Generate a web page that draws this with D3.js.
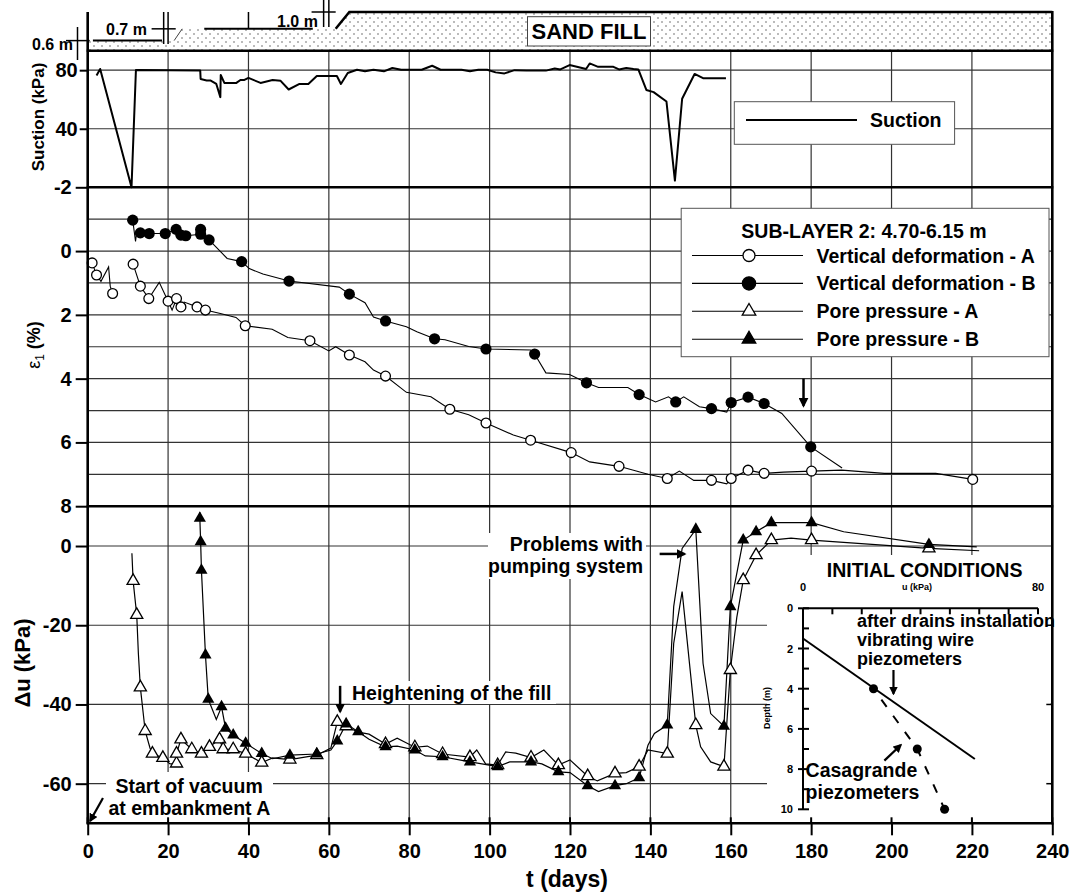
<!DOCTYPE html>
<html><head><meta charset="utf-8">
<script src="https://cdn.jsdelivr.net/npm/d3@7"></script>
<style>
body{margin:0;background:#fff}
svg text{font-family:"Liberation Sans",Arial,Helvetica,sans-serif;font-weight:bold;fill:#000}
</style>
</head><body>
<svg id="c" width="1074" height="896"></svg>
<script>
// ================= DATA =================
const xTicks = [0,20,40,60,80,100,120,140,160,180,200,220,240];
const suctionTicks = [40,80];
const strainTicks = [-2,0,2,4,6,8];
const strainGrid = [-1,0,1,2,3,4,5,6,7];
const duTicks = [-60,-40,-20,0];

// sand fill stages (day, height in m)
const fillDays = [0,21.5,23.5,61.7,65.1,240];
const fillHeights = [0.6,0.6,1.3,1.3,2.3,2.3];

// suction (kPa)
const suctionDays = [2.2,3.1,10.9,12,28,28.1,29.6,30.5,32,33,33.1,34,37,38,39,40,43,46,48,50,52.7,54.9,57,62,63,64.7,67,69,71.1,73.7,75.8,78,83.1,85.7,87.8,93,95.1,97.2,99.4,101.5,103.7,106.2,109.2,114,116.2,117.6,119.9,124,124.9,127,130.8,132.2,134,135.8,137,139,140.8,144,146.1,147.9,151,153.1,158.8];
const suctionKPa = [76.3,80.8,0,80.1,79.7,74,73,73,70.6,61.6,76.7,71.3,71.3,73.3,73.3,74.7,71.3,73.3,72.7,66.8,70.6,70.6,76,76,70.6,78.1,80.3,79.2,80.3,79.2,81.5,80.3,80.3,83,80.3,80.3,79.2,80.3,80.3,78.5,77.8,80,79.7,79.7,81.2,80.5,83.5,80.8,84.6,82.3,82.3,80.5,81.5,80.8,80.5,66.5,65,58.6,4.6,60.5,77.4,74.5,74.5];

// vertical deformation A (line + markers)
const vdADays = [1.1,2.2,3.3,5.2,5.6,6.2,8,11.3,13.1,15.2,17.8,20,21,22.1,23.2,24,27.2,29.3,33,36.9,39.2,45.9,49.8,55.3,60,61.7,65.1,69,71.1,74.1,79.3,85.4,90.1,94.8,99.1,105.9,110.2,120.3,124.9,132.2,139.4,144.2,147.2,150.8,155.2,159,160.1,164.3,168.3,173.1,180.1,187.6,198.2,211,220.2];
const vdAVals = [0.37,0.75,0.95,0.5,1.1,1.33,null,0.41,1.1,1.49,0.98,1.57,1.85,1.49,1.75,1.6,1.75,1.85,1.96,2.08,2.34,2.45,2.71,2.81,3.13,3.0,3.26,3.47,3.73,3.92,4.43,4.57,4.96,5.13,5.39,5.77,5.93,6.32,6.61,6.75,7.0,7.13,6.9,7.19,7.19,7.3,7.13,6.87,6.97,6.93,6.9,6.87,6.97,6.97,7.16];
const vdAMarkDays = [1.1,2.2,6.2,11.3,13.1,15.2,20,22.1,23.2,27.2,29.3,39.2,55.3,65.1,74.1,90.1,99.1,110.2,120.3,132.2,144.2,155.2,160.1,164.3,168.3,180.1,220.2];
const vdAMarkVals = [0.37,0.75,1.33,0.41,1.1,1.49,1.57,1.49,1.75,1.75,1.85,2.34,2.81,3.26,3.92,4.96,5.39,5.93,6.32,6.75,7.13,7.19,7.13,6.87,6.97,6.9,7.16];

// vertical deformation B
const vdBDays = [11.2,11.9,12.2,13.1,15.3,19.3,22,23.2,24.4,28.1,28.1,30.2,34.7,38.3,40.2,43.6,50.1,62.6,65.1,69,71.1,74.1,79.3,81.9,86.3,88.9,94.8,99.1,110.2,111.2,114,119.9,124.1,127.1,134.4,137.2,141.3,144.5,146.3,148.3,152.2,155.2,159,160.1,164.3,168.3,172.7,179.9,187.7];
const vdBVals = [-0.97,-0.3,-0.6,-0.57,-0.55,-0.55,-0.68,-0.5,-0.48,-0.53,-0.68,-0.35,0.23,0.33,0.55,0.72,0.94,1.13,1.35,1.62,2.07,2.19,2.37,2.53,2.75,2.78,2.99,3.07,3.1,3.23,3.82,3.87,4.13,4.28,4.28,4.5,4.73,4.57,4.73,4.57,4.88,4.94,5.05,4.75,4.58,4.78,5.09,6.14,6.8];
const vdBMarkDays = [11.2,13.1,15.3,19.3,22,23.2,24.4,28.1,28.1,30.2,38.3,50.1,65.1,74.1,86.3,99.1,111.2,124.1,137.2,146.3,155.2,160.1,164.3,168.3,179.9];
const vdBMarkVals = [-0.97,-0.57,-0.55,-0.55,-0.68,-0.5,-0.48,-0.68,-0.53,-0.35,0.33,0.94,1.35,2.19,2.75,3.07,3.23,4.13,4.5,4.73,4.94,4.75,4.58,4.78,6.14];

// pore pressure A (kPa)
const ppADays = [11,11.3,12.2,12.6,13.1,14.3,15.5,16.1,18.7,20.5,22.1,22.1,23.2,25.9,28.3,30.3,32.8,33.7,36.2,39.3,43.3,46,50.3,57,60.5,62.1,64.3,67.3,70,74.1,77,81.4,84.5,88.3,95.1,96.8,99,102,104,106.5,110.3,113.5,117.1,120,124.4,126.8,131.2,134,137.2,139.4,144.2,145.8,147.9,151.3,152.5,155,158.3,159.9,161.5,163.1,166.3,170.1,175,180.1,209.3,221.8];
const ppAVals = [-1.85,-8.8,-17.4,-27,-35.7,-46.7,-51,-52.4,-53.5,-55,-54.9,-52.4,-48.8,-51.3,-52.4,-50.7,-48.8,-51.3,-51.3,-52.4,-54.7,-53.5,-53.9,-52.8,-51,-44.4,-45.5,-47,-47.5,-50,-48.5,-50.8,-50.5,-52.5,-53.3,-51.5,-55,-55.3,-52,-52.3,-53.4,-51.5,-55.3,-54,-58.1,-59.3,-57.4,-57.2,-55.7,-51.5,-52.4,-24.6,-11.5,-45.2,-50.7,-54.5,-55.7,-31.3,-18,-8.6,-2.3,1.5,2,1.5,-0.6,-1.2];
const ppAMarkDays = [11.3,12.2,13.1,14.3,16.1,18.7,22.1,22.1,23.2,25.9,28.3,30.3,32.8,33.7,36.2,39.3,43.3,50.3,57,62.1,64.3,74.1,81.4,88.3,95.1,102,110.3,117.1,124.4,131.2,137.2,144.2,151.3,158.3,159.9,163.1,166.3,170.1,180.1,209.3];
const ppAMarkVals = [-8.8,-17.4,-35.7,-46.7,-52.4,-53.5,-54.9,-52.4,-48.8,-51.3,-52.4,-50.7,-48.8,-51.3,-51.3,-52.4,-54.7,-53.9,-52.8,-44.4,-45.5,-50,-50.8,-52.5,-53.3,-55.3,-53.4,-55.3,-58.1,-57.4,-55.7,-52.4,-45.2,-55.7,-31.3,-8.6,-2.3,1.5,1.5,-0.6];

// pore pressure B
const ppBDays = [27.9,27.9,28.1,28.3,29.3,30,32,33.3,34.3,36.2,39.3,43.3,46,50.3,57,60.5,62.1,64.3,67.3,70,74.1,77,81.4,84,88.3,95.1,97,102,105,110.3,113,117.1,120,124.4,127.1,131.2,134,137.2,139.4,141,144.2,145.8,147.9,151.3,153.1,155,158.3,159.9,163.1,166.3,170.1,180.1,188.1,209.3,221.2];
const ppBVals = [8.5,7,1.1,-6.1,-27.5,-38.7,-43.8,-40.6,-46,-47.7,-49.8,-52.4,-53.7,-52.8,-52.5,-51.5,-49.2,-44.9,-46.9,-48.8,-50.7,-50.5,-51.5,-53,-53.2,-54.5,-54.8,-55.7,-54.5,-54.5,-55,-57,-57.2,-60.5,-62,-60.5,-60,-58.5,-50.3,-47.3,-45.2,-15.3,-0.6,4.2,-29.6,-42.3,-45.5,-15.3,1.5,3.6,5.9,5.9,3.6,0.4,-0.2];
const ppBMarkDays = [27.9,28.1,28.3,29.3,30,33.3,34.3,36.2,39.3,43.3,50.3,57,62.1,64.3,67.3,74.1,81.4,88.3,95.1,102,110.3,117.1,124.4,131.2,137.2,144.2,151.3,158.3,159.9,163.1,166.3,170.1,180.1,209.3];
const ppBMarkVals = [7,1.1,-6.1,-27.5,-38.7,-40.6,-46,-47.7,-49.8,-52.4,-52.8,-52.5,-49.2,-44.9,-46.9,-50.7,-51.5,-53.2,-54.5,-55.7,-54.5,-57,-60.5,-60.5,-58.5,-45.2,4.2,-45.5,-15.3,1.5,3.6,5.9,5.9,0.4];

const legendTitle = "SUB-LAYER 2: 4.70-6.15 m";
const legendLabels = ["Vertical deformation - A","Vertical deformation - B","Pore pressure - A","Pore pressure - B"];

// inset: initial conditions
const insetUTicks = [0,10,20,30,40,50,60,70,80];
const insetDepthTicks = [0,2,4,6,8,10];
const insetDepthMinor = [0,1,2,3,4,5,6,7,8,9,10];
const vwU = [0,58.5];        // vibrating wire piezometers line
const vwDepth = [1.5,7.5];
const casaU = [24,38.9,48.2]; // Casagrande piezometers
const casaDepth = [4,7,10];

// ================= DRAWING =================
const zip = (a,b)=>a.map((d,i)=>[d,b[i]]);
const svg = d3.select('#c');
const L = 87.7, R = 1052.3;
const Y_TOP = 50.7, Y_S = 187.3, Y_E = 506.2, Y_B = 823.3;
const x = d3.scaleLinear().domain([0,240]).range([L,R]);
const ySuc = d3.scaleLinear().domain([0,93.3]).range([Y_S,Y_TOP]);
const yEps = d3.scaleLinear().domain([-2,8]).range([Y_S,Y_E]);
const yDu = d3.scaleLinear().domain([-70,10]).range([Y_B,506.4]);
const yFill = d3.scaleLinear().domain([0,2.3]).range([Y_TOP,12]);

const defs = svg.append('defs');
const pat = defs.append('pattern').attr('id','dots').attr('patternUnits','userSpaceOnUse')
  .attr('width',8).attr('height',8);
pat.append('circle').attr('cx',2).attr('cy',2).attr('r',0.75).attr('fill','#555');
pat.append('circle').attr('cx',6).attr('cy',6).attr('r',0.75).attr('fill','#555');
defs.append('marker').attr('id','ah').attr('viewBox','0 0 10 10').attr('refX',8).attr('refY',5)
  .attr('markerWidth',4).attr('markerHeight',4).attr('orient','auto')
  .append('path').attr('d','M0,0 L10,5 L0,10 z').attr('fill','#000');

// ---- sand fill ----
const fillPoly = [[0,0]].concat(zip(fillDays,fillHeights)).concat([[240,0]]);
svg.append('path').attr('d', d3.line().x(d=>x(d[0])).y(d=>yFill(d[1]))(fillPoly)+'Z')
  .attr('fill','url(#dots)').attr('stroke','none');
svg.append('path').attr('d', d3.line().x(d=>x(d[0])).y(d=>yFill(d[1]))(zip(fillDays,fillHeights).slice(3)))
  .attr('fill','none').attr('stroke','#000').attr('stroke-width',2.5);
svg.append('line').attr('x1',x(fillDays[1])).attr('y1',yFill(fillHeights[1])).attr('x2',x(fillDays[2])).attr('y2',yFill(fillHeights[2]))
  .attr('stroke','#444').attr('stroke-width',1);
// dimension marks
const dim = (x1,y1,x2,y2,w)=>svg.append('line').attr('x1',x1).attr('y1',y1).attr('x2',x2).attr('y2',y2).attr('stroke','#000').attr('stroke-width',w||1.5);
dim(66, yFill(0.6), L+2, yFill(0.6));
dim(77.5, 27, 77.5, 60);
dim(L, 12, L, Y_TOP);
dim(x(1.3), yFill(0.6), x(18.5), yFill(0.6), 2);
dim(x(15.9), yFill(1.3), x(21.9), yFill(1.3));
dim(x(18.9), 12, x(18.9), 44);
dim(x(20), 12, x(20), 44);
dim(x(29), yFill(1.3), x(56), yFill(1.3), 2);
dim(x(40), 12, x(40), yFill(1.3));
dim(x(58.7), 0, x(58.7), 27);
dim(x(60), 0, x(60), 27);
dim(x(55.7), 12, x(61.7), 12);
svg.append('text').attr('x',32).attr('y',50).attr('font-size',16).text('0.6 m');
svg.append('text').attr('x',106).attr('y',35).attr('font-size',16).text('0.7 m');
svg.append('text').attr('x',277).attr('y',27).attr('font-size',16).text('1.0 m');
svg.append('rect').attr('x',527.5).attr('y',16.7).attr('width',123).attr('height',29.3)
  .attr('fill','#fff').attr('stroke','#444').attr('stroke-width',1);
svg.append('text').attr('x',589).attr('y',39).attr('text-anchor','middle').attr('font-size',22).text('SAND FILL');

// ---- grid ----
const grid = svg.append('g').attr('stroke','#333').attr('stroke-width',1.2);
xTicks.slice(1,-1).forEach(t=>grid.append('line').attr('x1',x(t)).attr('x2',x(t)).attr('y1',Y_TOP).attr('y2',Y_B));
suctionTicks.forEach(t=>grid.append('line').attr('x1',L).attr('x2',R).attr('y1',ySuc(t)).attr('y2',ySuc(t)));
strainGrid.forEach(t=>grid.append('line').attr('x1',L).attr('x2',R).attr('y1',yEps(t)).attr('y2',yEps(t)));
duTicks.forEach(t=>grid.append('line').attr('x1',L).attr('x2',R).attr('y1',yDu(t)).attr('y2',yDu(t)));

// white boxes behind annotations
const wbox=(x1,y1,x2,y2)=>svg.append('rect').attr('x',x1).attr('y',y1).attr('width',x2-x1).attr('height',y2-y1).attr('fill','#fff');
wbox(488,533,646,579);
wbox(350,681,556,704);
wbox(106,772,273,821);
wbox(767,555,1050,821);

// ---- data lines ----
const lineS = d3.line().x(d=>x(d[0])).y(d=>ySuc(d[1]));
svg.append('path').attr('d',lineS(zip(suctionDays,suctionKPa))).attr('fill','none').attr('stroke','#000').attr('stroke-width',2).attr('stroke-linejoin','round');

const lineE = d3.line().defined(d=>d[1]!=null).x(d=>x(d[0])).y(d=>yEps(d[1]));
[[vdADays,vdAVals],[vdBDays,vdBVals]].forEach(([a,b])=>
  svg.append('path').attr('d',lineE(zip(a,b))).attr('fill','none').attr('stroke','#000').attr('stroke-width',1.1));
const lineU = d3.line().x(d=>x(d[0])).y(d=>yDu(d[1]));
[[ppADays,ppAVals],[ppBDays,ppBVals]].forEach(([a,b])=>
  svg.append('path').attr('d',lineU(zip(a,b))).attr('fill','none').attr('stroke','#000').attr('stroke-width',1.2));

const tri = d3.symbol().type(d3.symbolTriangle).size(64)();
svg.append('g').selectAll('path').data(zip(ppAMarkDays,ppAMarkVals)).join('path')
  .attr('d',tri).attr('transform',d=>`translate(${x(d[0])},${yDu(d[1])})`)
  .attr('fill','#fff').attr('stroke','#000').attr('stroke-width',1.3);
svg.append('g').selectAll('path').data(zip(ppBMarkDays,ppBMarkVals)).join('path')
  .attr('d',tri).attr('transform',d=>`translate(${x(d[0])},${yDu(d[1])})`)
  .attr('fill','#000');
svg.append('g').selectAll('circle').data(zip(vdAMarkDays,vdAMarkVals)).join('circle')
  .attr('cx',d=>x(d[0])).attr('cy',d=>yEps(d[1])).attr('r',4.9)
  .attr('fill','#fff').attr('stroke','#000').attr('stroke-width',1.3);
svg.append('g').selectAll('circle').data(zip(vdBMarkDays,vdBMarkVals)).join('circle')
  .attr('cx',d=>x(d[0])).attr('cy',d=>yEps(d[1])).attr('r',5.6).attr('fill','#000');

// ---- axes ----
const styleAxis = g=>{ g.select('.domain').remove(); g.selectAll('line').attr('stroke','#000').attr('stroke-width',2);
  g.selectAll('text').attr('font-size',20).attr('font-family','"Liberation Sans",Arial,sans-serif').attr('font-weight','bold'); };
svg.append('g').attr('transform',`translate(${L},0)`).call(d3.axisLeft(ySuc).tickValues(suctionTicks).tickSize(8).tickPadding(2).tickFormat(d=>String(d))).call(styleAxis);
svg.append('g').attr('transform',`translate(${L},0)`).call(d3.axisLeft(yEps).tickValues(strainTicks).tickSize(12).tickPadding(4).tickFormat(d=>String(d))).call(styleAxis);
svg.append('g').attr('transform',`translate(${L},0)`).call(d3.axisLeft(yDu).tickValues(duTicks).tickSize(12).tickPadding(4).tickFormat(d=>String(d))).call(styleAxis);
svg.append('g').attr('transform',`translate(0,${Y_B})`).call(d3.axisBottom(x).tickValues(xTicks).tickSize(12).tickPadding(8.5).tickFormat(d=>String(d))).call(styleAxis);
xTicks.forEach(t=>dim(x(t),Y_B-6,x(t),Y_B,2));
duTicks.slice(0,3).forEach(t=>dim(R-6,yDu(t),R,yDu(t),1.5));

// frame
[Y_TOP,Y_S,Y_E,Y_B].forEach(y=>dim(L-1,y,R+1,y,2.6));
dim(L,12,L,Y_B+1,2.6);
dim(R,yFill(2.3)-1,R,Y_B+1,2.6);

// axis titles
svg.append('text').attr('transform','translate(44,117) rotate(-90)').attr('text-anchor','middle').attr('font-size',17).text('Suction (kPa)');
const eT = svg.append('text').attr('transform','translate(40,345) rotate(-90)').attr('text-anchor','middle').attr('font-size',18);
eT.append('tspan').attr('font-weight','normal').text('ε');
eT.append('tspan').attr('font-weight','normal').attr('font-size',12).attr('dy',4).text('1');
eT.append('tspan').attr('dy',-4).text(' (%)');
svg.append('text').attr('transform','translate(30,663) rotate(-90)').attr('text-anchor','middle').attr('font-size',22).text('Δu (kPa)');
svg.append('text').attr('x',567).attr('y',887).attr('text-anchor','middle').attr('font-size',23).text('t (days)');

// ---- suction legend ----
svg.append('rect').attr('x',734.3).attr('y',101.7).attr('width',220.3).attr('height',42.6).attr('fill','#fff').attr('stroke','#555').attr('stroke-width',1);
dim(746,120,857,120,2);
svg.append('text').attr('x',870).attr('y',127).attr('font-size',19.5).text('Suction');

// ---- sub-layer legend ----
svg.append('rect').attr('x',681.2).attr('y',208.3).attr('width',367.8).attr('height',148.4).attr('fill','#fff').attr('stroke','#555').attr('stroke-width',1);
svg.append('text').attr('x',864).attr('y',238).attr('text-anchor','middle').attr('font-size',19.5).text(legendTitle);
legendLabels.forEach((lab,i)=>{
  const cy = 255.5 + i*27.9;
  dim(692,cy,803,cy,1.1);
  if(i<2){ svg.append('circle').attr('cx',749).attr('cy',cy).attr('r',i===0?6:6.6)
      .attr('fill',i===0?'#fff':'#000').attr('stroke','#000').attr('stroke-width',1.3); }
  else { svg.append('path').attr('d',d3.symbol().type(d3.symbolTriangle).size(80)()).attr('transform',`translate(749,${cy})`)
      .attr('fill',i===2?'#fff':'#000').attr('stroke','#000').attr('stroke-width',1.3); }
  svg.append('text').attr('x',816.6).attr('y',cy+7).attr('font-size',19.5).text(lab);
});

// ---- annotations ----
const arrow=(x1,y1,x2,y2,w)=>svg.append('line').attr('x1',x1).attr('y1',y1).attr('x2',x2).attr('y2',y2)
  .attr('stroke','#000').attr('stroke-width',w||2.5).attr('marker-end','url(#ah)');
arrow(x(178.1),yEps(4.0),x(178.1),yEps(4.85));
svg.append('text').attr('x',643).attr('y',551).attr('text-anchor','end').attr('font-size',19.5).text('Problems with');
svg.append('text').attr('x',643).attr('y',573).attr('text-anchor','end').attr('font-size',19.5).text('pumping system');
arrow(x(142.3),yDu(-2),x(148.5),yDu(-2));
svg.append('text').attr('x',352).attr('y',700).attr('font-size',19.5).text('Heightening of the fill');
arrow(x(62.8),yDu(-35.3),x(62.8),yDu(-41.8));
svg.append('text').attr('x',115.4).attr('y',792.7).attr('font-size',19.5).text('Start of vacuum');
svg.append('text').attr('x',108.5).attr('y',815).attr('font-size',19.5).text('at embankment A');
arrow(x(3.8),yDu(-63.6),x(0.6),yDu(-69.4),2.2);

// ---- inset ----
const iu = d3.scaleLinear().domain([0,80]).range([803,1038]);
const id = d3.scaleLinear().domain([0,10]).range([608.3,809.3]);
svg.append('text').attr('x',924.6).attr('y',577.3).attr('text-anchor','middle').attr('font-size',19.5).text('INITIAL CONDITIONS');
dim(iu(0),id(0),iu(80),id(0),2);
dim(iu(0),id(0),iu(0),id(10),2);
insetUTicks.forEach(t=>dim(iu(t),id(0),iu(t),id(0)+6,2));
insetDepthMinor.forEach(t=>dim(iu(0),id(t),iu(0)+6,id(t),2));
insetDepthTicks.forEach(t=>{ dim(iu(0)-5,id(t),iu(0),id(t),2);
  svg.append('text').attr('x',iu(0)-10).attr('y',id(t)+4).attr('text-anchor','end').attr('font-size',11).text(t); });
svg.append('text').attr('x',iu(0)).attr('y',591).attr('text-anchor','middle').attr('font-size',11).text('0');
svg.append('text').attr('x',iu(80)).attr('y',591).attr('text-anchor','middle').attr('font-size',11).text('80');
svg.append('text').attr('x',917).attr('y',590).attr('text-anchor','middle').attr('font-size',9).text('u (kPa)');
svg.append('text').attr('transform','translate(770,708) rotate(-90)').attr('text-anchor','middle').attr('font-size',9).text('Depth (m)');
const il = d3.line().x(d=>iu(d[0])).y(d=>id(d[1]));
svg.append('path').attr('d',il(zip(vwU,vwDepth))).attr('fill','none').attr('stroke','#000').attr('stroke-width',2);
svg.append('path').attr('d',il(zip(casaU,casaDepth).map((d,i,a)=>i===0?[d[0]+(a[1][0]-d[0])*0.18,d[1]+(a[1][1]-d[1])*0.18]:d)))
  .attr('fill','none').attr('stroke','#000').attr('stroke-width',2).attr('stroke-dasharray','9,11');
svg.append('g').selectAll('circle').data(zip(casaU,casaDepth)).join('circle')
  .attr('cx',d=>iu(d[0])).attr('cy',d=>id(d[1])).attr('r',4.5).attr('fill','#000');
svg.append('text').attr('x',857).attr('y',627).attr('font-size',18).text('after drains installation');
svg.append('text').attr('x',857).attr('y',646).attr('font-size',18).text('vibrating wire');
svg.append('text').attr('x',857).attr('y',665).attr('font-size',18).text('piezometers');
arrow(iu(30.8),id(3.07),iu(30.8),id(4.25),2.2);
arrow(iu(27.7),id(7.58),iu(33.3),id(6.8),2.2);
svg.append('text').attr('x',805.6).attr('y',777.3).attr('font-size',19.5).text('Casagrande');
svg.append('text').attr('x',805.6).attr('y',799).attr('font-size',19.5).text('piezometers');
</script>
</body></html>
